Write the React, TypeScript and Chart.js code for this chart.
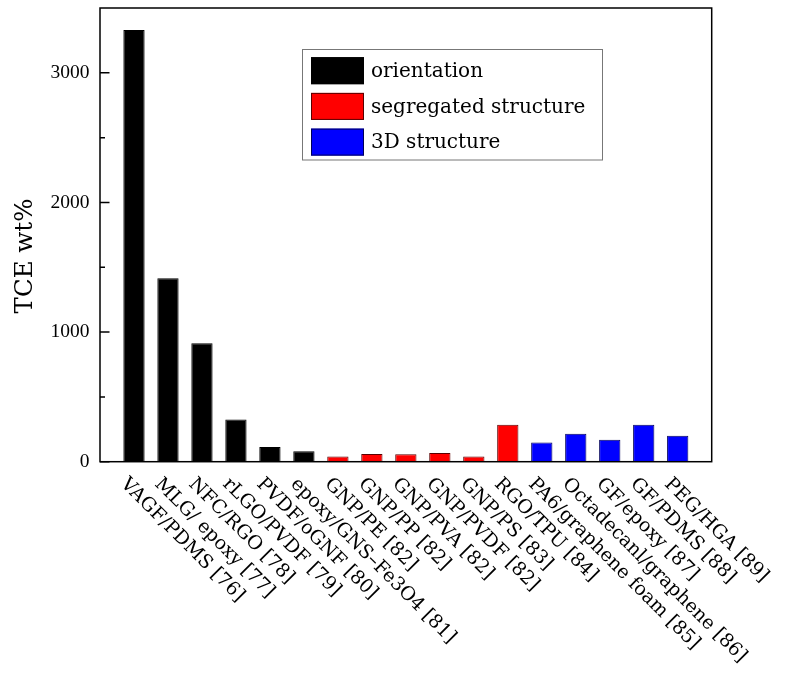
import React, { useEffect, useRef } from 'react';
import { Chart, registerables } from 'chart.js';

Chart.register(...registerables);

const categories = [
  'VAGF/PDMS [76]',
  'MLG/ epoxy [77]',
  'NFC/RGO [78]',
  'rLGO/PVDF [79]',
  'PVDF/oGNF [80]',
  'epoxy/GNS–Fe3O4 [81]',
  'GNP/PE [82]',
  'GNP/PP [82]',
  'GNP/PVA [82]',
  'GNP/PVDF [82]',
  'GNP/PS [83]',
  'RGO/TPU [84]',
  'PA6/graphene foam [85]',
  'Octadecanl/graphene [86]',
  'GF/epoxy [87]',
  'GF/PDMS [88]',
  'PEG/HGA [89]',
];

const orientationValues = [3330, 1415, 913, 325, 113, 80];
const segregatedValues = [41, 59, 57, 67, 41, 286];
const structure3DValues = [149, 216, 170, 286, 200];

const seriesLabels = ['orientation', 'segregated structure', '3D structure'];
const seriesColors = ['#000000', '#ff0000', '#0000ff'];
const seriesBorders = ['#000000', '#5a0000', '#00005a'];

const yMajorTicks = [0, 1000, 2000, 3000];
const yMinorTicks = [500, 1500, 2500];
const yTitle = 'TCE wt%';

const W = 788;
const H = 686;

export default function App() {
  const ref = useRef<HTMLCanvasElement>(null);

  useEffect(() => {
    const canvas = ref.current;
    if (!canvas) return;
    const groups = [orientationValues, segregatedValues, structure3DValues];
    let offset = 0;
    const datasets = groups.map((vals, g) => {
      const data = vals.map((v, i) => ({ x: offset + i + 1, y: v }));
      offset += vals.length;
      return {
        label: seriesLabels[g],
        data,
        backgroundColor: seriesColors[g],
        borderColor: seriesBorders[g],
        borderWidth: 1,
        barPercentage: 0.626,
        categoryPercentage: 1,
        grouped: false,
      };
    });

    const decor = {
      id: 'decor',
      afterDraw(chart: any) {
        const ctx = chart.ctx;
        const area = chart.chartArea;
        const xs = chart.scales.x;
        const ys = chart.scales.y;
        ctx.save();
        // frame
        ctx.strokeStyle = '#000';
        ctx.lineWidth = 1.5;
        ctx.strokeRect(area.left, area.top, area.right - area.left, area.bottom - area.top);
        // inward y ticks
        ctx.lineWidth = 1.5;
        ctx.beginPath();
        yMajorTicks.forEach((v) => {
          const y = ys.getPixelForValue(v);
          ctx.moveTo(area.left, y);
          ctx.lineTo(area.left + 9.5, y);
        });
        yMinorTicks.forEach((v) => {
          const y = ys.getPixelForValue(v);
          ctx.moveTo(area.left, y);
          ctx.lineTo(area.left + 5, y);
        });
        ctx.stroke();

        // x category labels rotated clockwise
        ctx.fillStyle = '#000';
        ctx.font = '19px "DejaVu Serif"';
        ctx.textAlign = 'left';
        ctx.textBaseline = 'alphabetic';
        categories.forEach((lab, i) => {
          const x = xs.getPixelForValue(i + 1);
          ctx.save();
          ctx.translate(x - 14, area.bottom + 23);
          ctx.rotate(Math.PI / 4);
          ctx.fillText(lab, 0, 0);
          ctx.restore();
        });

        // y title
        ctx.save();
        ctx.font = '24.5px "DejaVu Serif"';
        ctx.textAlign = 'center';
        ctx.textBaseline = 'alphabetic';
        ctx.translate(31.5, 256);
        ctx.rotate(-Math.PI / 2);
        ctx.fillText(yTitle, 0, 0);
        ctx.restore();

        // legend
        const lx = 302.5;
        const ly = 49.5;
        ctx.strokeStyle = '#777';
        ctx.lineWidth = 1;
        ctx.strokeRect(lx, ly, 300, 110.5);
        ctx.font = '20px "DejaVu Serif"';
        ctx.textBaseline = 'middle';
        ctx.textAlign = 'left';
        seriesLabels.forEach((lab, i) => {
          const cy = 70.7 + i * 35.7;
          ctx.fillStyle = seriesColors[i];
          ctx.fillRect(311, cy - 13.5, 53, 27);
          ctx.strokeStyle = seriesBorders[i];
          ctx.lineWidth = 1;
          ctx.strokeRect(311.5, cy - 13, 52, 26);
          ctx.fillStyle = '#000';
          ctx.fillText(lab, 371, cy + 1);
        });
        ctx.restore();
      },
    };

    const chart = new Chart(canvas, {
      type: 'bar',
      data: { datasets: datasets as any },
      options: {
        animation: false,
        responsive: false,
        devicePixelRatio: 1,
        layout: { padding: { top: 8, right: 76.3, left: 0, bottom: 0 } },
        plugins: {
          legend: { display: false },
          tooltip: { enabled: false },
          title: { display: false },
        },
        scales: {
          x: {
            type: 'linear',
            offset: false,
            min: 0,
            max: 18,
            grid: { display: false },
            border: { display: false },
            ticks: { display: false, stepSize: 1 },
            afterFit(scale: any) {
              scale.height = H - 461.7;
              scale.paddingLeft = 0;
              scale.paddingRight = 0;
            },
          },
          y: {
            min: 0,
            max: 3500,
            grid: { display: false, drawTicks: false },
            border: { display: false },
            ticks: {
              color: '#000',
              padding: 10.5,
              font: { family: '"Liberation Serif"', size: 19.5 },
              callback: (v: any) => String(v),
            },
            afterBuildTicks(scale: any) {
              scale.ticks = yMajorTicks.map((v) => ({ value: v }));
            },
            afterFit(scale: any) {
              scale.width = 100;
              scale.paddingTop = 0;
              scale.paddingBottom = 0;
            },
          },
        },
      } as any,
      plugins: [decor],
    });
    return () => chart.destroy();
  }, []);

  return (
    <div style={{ position: 'absolute', left: 0, top: 0, width: W, height: H, background: '#fff' }}>
      <canvas ref={ref} width={W} height={H} style={{ width: W, height: H, display: 'block' }} />
    </div>
  );
}
